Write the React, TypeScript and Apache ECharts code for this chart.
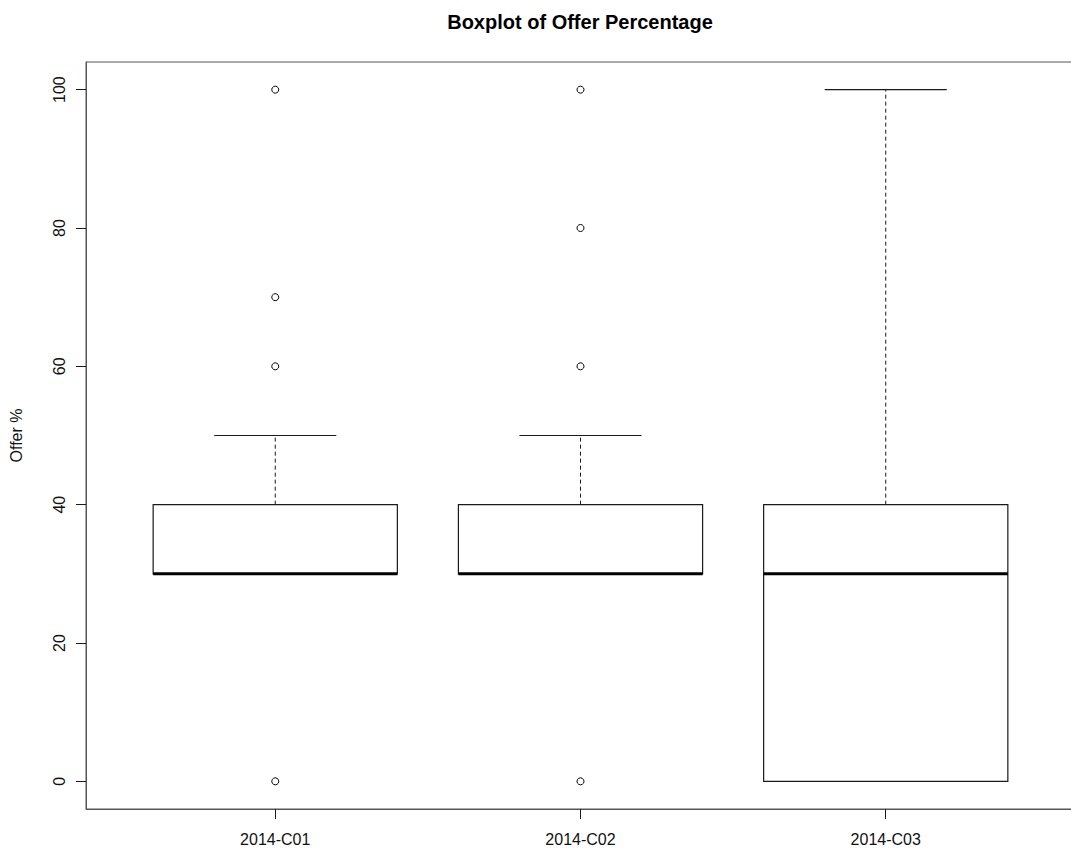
import React, { useEffect, useRef } from "react";
import * as echarts from "echarts";

// Box statistics per group
const categories = ["2014-C01", "2014-C02", "2014-C03"];
const whiskerLow = [30, 30, 0];
const lowerQuartile = [30, 30, 0];
const medians = [30, 30, 30];
const upperQuartile = [40, 40, 40];
const whiskerHigh = [50, 50, 100];

// Points beyond the whiskers
const outliersC01 = [0, 60, 70, 100];
const outliersC02 = [0, 60, 80, 100];
const outliersC03: number[] = [];

const yTicks = [0, 20, 40, 60, 80, 100];

const FONT = "'Liberation Sans', Arial, sans-serif";
const INK = "#1a1a1a";

export default function App() {
  const ref = useRef<HTMLDivElement>(null);

  useEffect(() => {
    if (!ref.current) return;
    const chart = echarts.init(ref.current, undefined, { renderer: "svg" });

    const boxData = categories.map((_, i) => [
      i + 1,
      whiskerLow[i],
      lowerQuartile[i],
      medians[i],
      upperQuartile[i],
      whiskerHigh[i],
    ]);

    const outlierData: number[][] = [];
    [outliersC01, outliersC02, outliersC03].forEach((list, i) =>
      list.forEach((v) => outlierData.push([i + 1, v]))
    );

    const renderItem = (params: any, api: any) => {
      const x = api.value(0);
      const lo = api.value(1);
      const q1 = api.value(2);
      const med = api.value(3);
      const q3 = api.value(4);
      const hi = api.value(5);
      const half = 0.4;
      const cap = 0.2;
      const pL = api.coord([x - half, q3]);
      const pR = api.coord([x + half, q1]);
      const cx = api.coord([x, 0])[0];
      const yLo = api.coord([x, lo])[1];
      const yQ1 = api.coord([x, q1])[1];
      const yMed = api.coord([x, med])[1];
      const yQ3 = api.coord([x, q3])[1];
      const yHi = api.coord([x, hi])[1];
      const capL = api.coord([x - cap, 0])[0];
      const capR = api.coord([x + cap, 0])[0];
      const thin = { stroke: INK, lineWidth: 1.2 };
      const dashed = { stroke: INK, lineWidth: 1, lineDash: [4, 3] };
      const children: any[] = [];
      if (yHi < yQ3) {
        children.push({ type: "line", shape: { x1: cx, y1: yQ3, x2: cx, y2: yHi }, style: dashed });
        children.push({ type: "line", shape: { x1: capL, y1: yHi, x2: capR, y2: yHi }, style: thin });
      }
      if (yLo > yQ1) {
        children.push({ type: "line", shape: { x1: cx, y1: yQ1, x2: cx, y2: yLo }, style: dashed });
        children.push({ type: "line", shape: { x1: capL, y1: yLo, x2: capR, y2: yLo }, style: thin });
      }
      children.push({
        type: "rect",
        shape: { x: pL[0], y: pL[1], width: pR[0] - pL[0], height: pR[1] - pL[1] },
        style: { fill: "#ffffff", stroke: INK, lineWidth: 1.2 },
      });
      children.push({
        type: "line",
        shape: { x1: pL[0], y1: yMed, x2: pR[0], y2: yMed },
        style: { stroke: "#000000", lineWidth: 3 },
      });
      return { type: "group", children };
    };

    chart.setOption({
      animation: false,
      backgroundColor: "#ffffff",
      title: {
        text: "Boxplot of Offer Percentage",
        left: 575,
        textAlign: "center",
        top: 7,
        textStyle: { fontFamily: FONT, fontSize: 20, fontWeight: "bold", color: "#000" },
      },
      grid: {
        left: 86,
        top: 62,
        right: 8,
        bottom: 39,
        containLabel: false,
        outerBoundsMode: "none",
        show: true,
        borderColor: "#555",
        borderWidth: 1,
        backgroundColor: "transparent",
      },
      xAxis: {
        type: "value",
        min: 0.38,
        max: 3.62,
        splitLine: { show: false },
        axisLine: { show: true, onZero: false, lineStyle: { color: "#555", width: 1 } },
        axisTick: {
          show: true,
          length: 10,
          customValues: [1, 2, 3],
          lineStyle: { color: INK },
        },
        axisLabel: {
          customValues: [1, 2, 3],
          formatter: (v: number) => categories[Math.round(v) - 1] ?? "",
          margin: 22,
          fontFamily: FONT,
          fontSize: 16,
          color: "#111",
        },
      },
      yAxis: {
        type: "value",
        min: -4,
        max: 104,
        name: "Offer %",
        nameLocation: "middle",
        nameRotate: 90,
        nameGap: 62,
        nameTextStyle: { fontFamily: FONT, fontSize: 16, color: "#111" },
        splitLine: { show: false },
        axisLine: { show: true, onZero: false, lineStyle: { color: "#555", width: 1 } },
        axisTick: {
          show: true,
          length: 10,
          customValues: yTicks,
          lineStyle: { color: INK },
        },
        axisLabel: {
          customValues: yTicks,
          rotate: 90,
          margin: 19,
          fontFamily: FONT,
          fontSize: 16,
          color: "#111",
        },
      },
      series: [
        {
          type: "custom",
          renderItem,
          data: boxData,
          encode: { x: 0, y: [1, 2, 3, 4, 5] },
          z: 2,
        },
        {
          type: "scatter",
          data: outlierData,
          symbol: "circle",
          symbolSize: 7,
          itemStyle: { color: "#ffffff", borderColor: "#000000", borderWidth: 1, opacity: 1 },
          z: 3,
        },
      ],
    });

    return () => chart.dispose();
  }, []);

  return (
    <div
      style={{
        position: "fixed",
        left: 0,
        top: 0,
        width: 1071,
        height: 848,
        overflow: "hidden",
        background: "#fff",
      }}
    >
      <div ref={ref} style={{ width: 1083, height: 848 }} />
    </div>
  );
}
